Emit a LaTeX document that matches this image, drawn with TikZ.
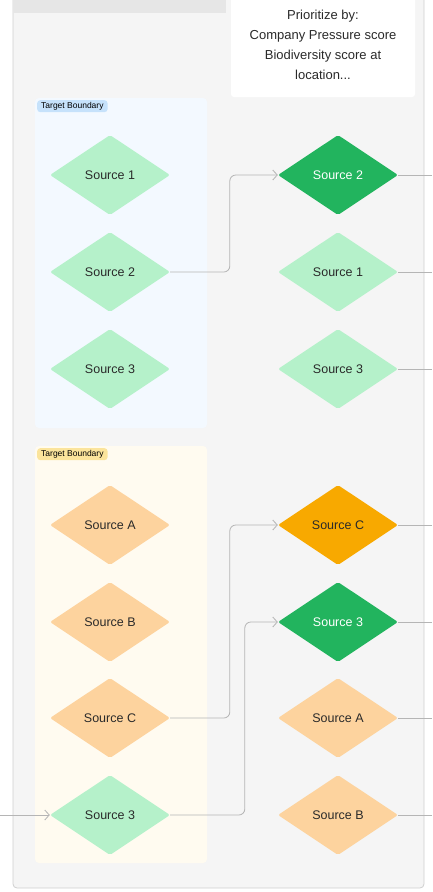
\documentclass[tikz,border=0pt]{standalone}
\usepackage{fontspec}
\setmainfont{Liberation Sans}
\usetikzlibrary{shapes.geometric,arrows.meta}
\definecolor{lanegray}{HTML}{F5F5F5}
\definecolor{headgray}{HTML}{E6E6E6}
\definecolor{bordergray}{HTML}{CFCFCF}
\definecolor{linegray}{HTML}{B5B5B5}
\definecolor{bluebox}{HTML}{F3F9FF}
\definecolor{bluetag}{HTML}{C6E2FB}
\definecolor{yellowbox}{HTML}{FFFBF0}
\definecolor{yellowtag}{HTML}{FBE49C}
\definecolor{palegreen}{HTML}{B5F1CA}
\definecolor{darkgreen}{HTML}{22B45E}
\definecolor{paleorange}{HTML}{FDD39E}
\definecolor{deeporange}{HTML}{F8A900}
\definecolor{srctext}{HTML}{2A2A2A}
\begin{document}
\begin{tikzpicture}[x=1pt, y=-1pt, font=\fontsize{12.5}{15}\selectfont,
	src/.style={diamond, minimum width=120pt, minimum height=80pt, inner sep=0pt, rounded corners=2pt, text=srctext},
	pale/.style={src, fill=palegreen},
	dark/.style={src, fill=darkgreen, text=white},
	peach/.style={src, fill=paleorange},
	amber/.style={src, fill=deeporange},
	tag/.style={anchor=north west, inner xsep=4pt, inner ysep=2pt, rounded corners=3pt, font=\fontsize{8.5}{10}\selectfont, text=black},
	link/.style={draw=linegray, line width=0.8pt, rounded corners=6pt, -{Straight Barb[length=4.5pt, width=10pt]}},
	tail/.style={draw=linegray, line width=0.8pt}]
	\useasboundingbox (0,0) rectangle (432,892);
	
	% 泳道背景
	\draw[fill=lanegray, draw=bordergray, line width=0.8pt, rounded corners=4pt] (13,-10) rectangle (424,888);
	\fill[headgray] (13,-10) rectangle (226,13);
	\fill[white, rounded corners=3pt] (231,-10) rectangle (415,97);
	\node[align=center, font=\fontsize{13}{20}\selectfont, text=srctext] (note) at (323,45) {Prioritize by:\\Company Pressure score\\Biodiversity score at\\location...};
	
	% 目标边界
	\fill[bluebox, rounded corners=4pt] (35,98) rectangle (207,428);
	\node[tag, fill=bluetag] (tagblue) at (37,100) {Target Boundary};
	\fill[yellowbox, rounded corners=4pt] (35,446) rectangle (207,863);
	\node[tag, fill=yellowtag] (tagyellow) at (37,448) {Target Boundary};
	
	% 左列
	\node[pale] (l1) at (110,175) {Source 1};
	\node[pale] (l2) at (110,272) {Source 2};
	\node[pale] (l3) at (110,369) {Source 3};
	\node[peach] (lA) at (110,525) {Source A};
	\node[peach] (lB) at (110,622) {Source B};
	\node[peach] (lC) at (110,718) {Source C};
	\node[pale] (lS) at (110,815) {Source 3};
	
	% 右列（排序后）
	\node[dark] (r2) at (338,175) {Source 2};
	\node[pale] (r1) at (338,272) {Source 1};
	\node[pale] (r3) at (338,369) {Source 3};
	\node[amber] (rC) at (338,525) {Source C};
	\node[dark] (rS) at (338,622) {Source 3};
	\node[peach] (rA) at (338,718) {Source A};
	\node[peach] (rB) at (338,815) {Source B};
	
	% 连线
	\coordinate (entry) at (0,815);
	\coordinate (edge) at (432,0);
	\draw[link] (entry) -- (lS.west);
	\draw[link] (l2.east) -| ([xshift=-48pt]r2.west) -- (r2.west);
	\draw[link] (lC.east) -| ([xshift=-48pt]rC.west) -- (rC.west);
	\draw[link] (lS.east) -| ([xshift=-33pt]rS.west) -- (rS.west);
	\foreach \n in {r2,r1,r3,rC,rS,rA,rB}
		\draw[tail] (\n.east) -- (\n.east -| edge);
\end{tikzpicture}
\end{document}
